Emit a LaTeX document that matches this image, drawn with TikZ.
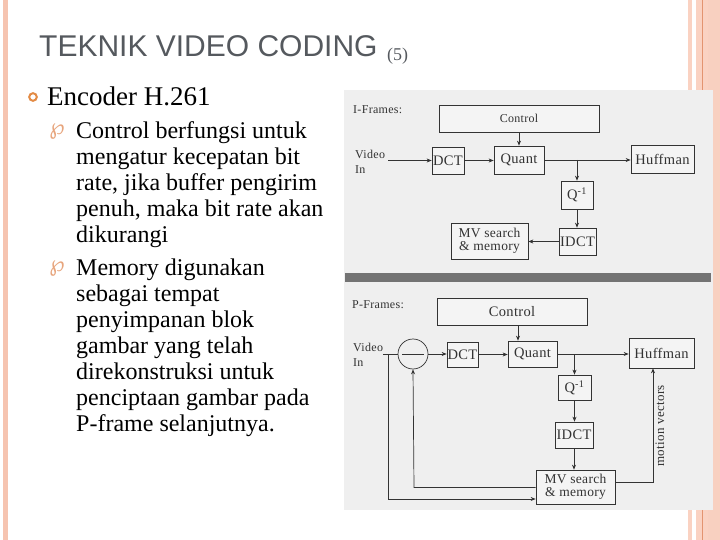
\documentclass[tikz,border=0pt]{standalone}
\usepackage{fontspec}
\setmainfont{Liberation Serif}
\newfontfamily\judulfont{Liberation Sans}
\newfontfamily\simbolfont{DejaVu Sans}
\newfontfamily\scanfont[LetterSpace=2.5]{Liberation Serif}
\usepackage{tikz}
\usetikzlibrary{arrows.meta,positioning,calc}
\definecolor{JudulAbu}{HTML}{55595E}
\definecolor{BatangPink}{HTML}{F6C4B0}
\definecolor{GarisPink}{HTML}{FAD2C2}
\definecolor{GarisOranye}{HTML}{E39470}
\definecolor{OranyeBullet}{HTML}{E38B45}
\definecolor{SimbolOranye}{HTML}{E7A57D}
\definecolor{ScanAbu}{HTML}{EFEFEF}
\definecolor{KotakAbu}{HTML}{F4F4F4}
\definecolor{GarisScan}{HTML}{333333}
\tikzset{
  kotak/.style  = {draw=GarisScan, fill=KotakAbu, line width=0.7pt, inner sep=0pt,
                   align=center, text=GarisScan, font=\scanfont\fontsize{14.5}{15}\selectfont},
  kotakmv/.style = {kotak, font=\scanfont\fontsize{13.5}{12.5}\selectfont},
  panah/.style  = {-{Stealth[length=5pt,width=4pt]}, line width=0.7pt, draw=GarisScan},
  garis/.style  = {line width=0.7pt, draw=GarisScan},
  ket/.style    = {font=\scanfont\fontsize{12}{15}\selectfont, text=GarisScan,
                   align=left, inner sep=0pt},
  poin/.style   = {font=\fontsize{24}{26}\selectfont, align=left, anchor=north west,
                   inner sep=0pt},
  simbol/.style = {font=\simbolfont\fontsize{22}{22}\selectfont, text=SimbolOranye,
                   inner sep=0pt},
}

\begin{document}
\begin{tikzpicture}[x=1pt, y=-1pt]
  \useasboundingbox (0,0) rectangle (720,540);
  % hiasan pinggir
  \fill[BatangPink] (3,0) rectangle (8,540);
  \fill[GarisPink] (688,0) rectangle (692,540);
  \fill[GarisPink] (696,0) rectangle (720,540);
  \fill[GarisOranye] (702,0) rectangle (703.2,540);
  \fill[BatangPink!80] (708,0) rectangle (720,540);

  % judul dan teks
  \node[anchor=base west, inner sep=0pt, text=JudulAbu,
        font=\judulfont\fontsize{30}{32}\selectfont] (judul) at (39,57) {TEKNIK VIDEO CODING};
  \node[anchor=base west, inner sep=0pt, text=JudulAbu,
        font=\fontsize{18}{20}\selectfont] (nomor) at (387,61) {(5)};
  \draw[OranyeBullet, line width=2pt] (33,97) circle (3.8);
  \node[anchor=base west, inner sep=0pt, font=\fontsize{27}{30}\selectfont] (enc) at (47,106) {Encoder H.261};

  \node[simbol] (s1) at (57,131) {℘};
  \node[poin] (kontrol) at (76,121.5) {Control berfungsi untuk\\mengatur kecepatan bit\\rate, jika buffer pengirim\\penuh, maka bit rate akan\\dikurangi};
  \node[simbol] (s2) at (57,268) {℘};
  \node[poin] (memori) at (76,258.5) {Memory digunakan\\sebagai tempat\\penyimpanan blok\\gambar yang telah\\direkonstruksi untuk\\penciptaan gambar pada\\P-frame selanjutnya.};

  % gambar hasil scan
  \fill[ScanAbu] (344,90) rectangle (713,510);
  \fill[black!55] (345,273) rectangle (711,282);

  % I-Frames
  \node[ket, anchor=west] (judI) at (353,110) {I-Frames:};
  \node[ket, anchor=west] (vinI) at (355,162) {Video\\In};
  \node[kotak, minimum width=160, minimum height=27,
        font=\scanfont\fontsize{12}{13}\selectfont] (ctrlI) at (519,118.5) {Control};
  \node[kotak, minimum width=32, minimum height=27] (dctI) at (448,160.5) {DCT};
  \node[kotak, minimum width=50, minimum height=28] (quantI) at (519,160) {Quant};
  \node[kotak, minimum width=63, minimum height=28] (huffI) at (662.5,159) {Huffman};
  \node[kotak, minimum width=32, minimum height=28] (qinvI) at (577,195) {Q\textsuperscript{-1}};
  \node[kotak, minimum width=37, minimum height=27] (idctI) at (577.5,241.5) {IDCT};
  \node[kotakmv, minimum width=77, minimum height=36] (mvI) at (489.5,241) {MV search\\\& memory};

  \draw[panah] (vinI.east |- dctI.west) ++(3,0) -- (dctI.west);
  \draw[panah] (ctrlI.south) -- (quantI.north);
  \draw[panah] (dctI.east) -- (dctI.east -| quantI.west);
  \draw[panah] (quantI.east) -- (quantI.east -| huffI.west);
  \draw[panah] (quantI.east -| qinvI) -- (qinvI.north);
  \draw[panah] (qinvI.south) -- (qinvI.south |- idctI.north);
  \draw[panah] (idctI.west) -- (idctI.west -| mvI.east);

  % P-Frames
  \node[ket, anchor=west] (judP) at (352,305) {P-Frames:};
  \node[ket, anchor=west] (vinP) at (353,355) {Video\\In};
  \node[kotak, minimum width=150, minimum height=27] (ctrlP) at (512,311.5) {Control};
  \node[draw=GarisScan, line width=0.7pt, circle, minimum size=30, inner sep=0pt] (sub) at (413,354) {};
  \node[kotak, minimum width=31, minimum height=25] (dctP) at (462.5,354.5) {DCT};
  \node[kotak, minimum width=49, minimum height=26] (quantP) at (532.5,354) {Quant};
  \node[kotak, minimum width=65, minimum height=30] (huffP) at (661.5,353) {Huffman};
  \node[kotak, minimum width=33, minimum height=25] (qinvP) at (574.5,387.5) {Q\textsuperscript{-1}};
  \node[kotak, minimum width=38, minimum height=26] (idctP) at (574,435) {IDCT};
  \node[kotakmv, minimum width=79, minimum height=34] (mvP) at (575.5,487) {MV search\\\& memory};
  \coordinate (tapP) at (388,354);
  \coordinate (masukP) at (388,499);
  \coordinate (balikP) at (414,487.5);
  \coordinate (mvc) at (653,482);

  \draw[garis] ([xshift=-11pt]sub.center) -- ([xshift=11pt]sub.center);
  \draw[garis] (vinP.east |- sub.west) -- (sub.west);
  \draw[panah] (sub.east) -- (sub.east -| dctP.west);
  \draw[panah] ([xshift=6pt]ctrlP.south) -- ([xshift=6pt]ctrlP.south |- quantP.north);
  \draw[panah] (dctP.east) -- (dctP.east -| quantP.west);
  \draw[panah] (quantP.east) -- (quantP.east -| huffP.west);
  \draw[panah] (quantP.east -| qinvP) -- (qinvP.north);
  \draw[panah] (qinvP.south) -- (qinvP.south |- idctP.north);
  \draw[panah] (idctP.south) -- (idctP.south |- mvP.north);
  \draw[panah] (tapP) -- (masukP) -- (masukP -| mvP.west);
  \draw[panah] (balikP -| mvP.west) -- (balikP) -- (sub.south);
  \draw[panah] (mvc -| mvP.east) -- (mvc) -- (mvc |- huffP.south);
  \node[ket, rotate=90, font=\scanfont\fontsize{13}{14}\selectfont] (mvtxt) at (660,426) {motion vectors};
\end{tikzpicture}
\end{document}
